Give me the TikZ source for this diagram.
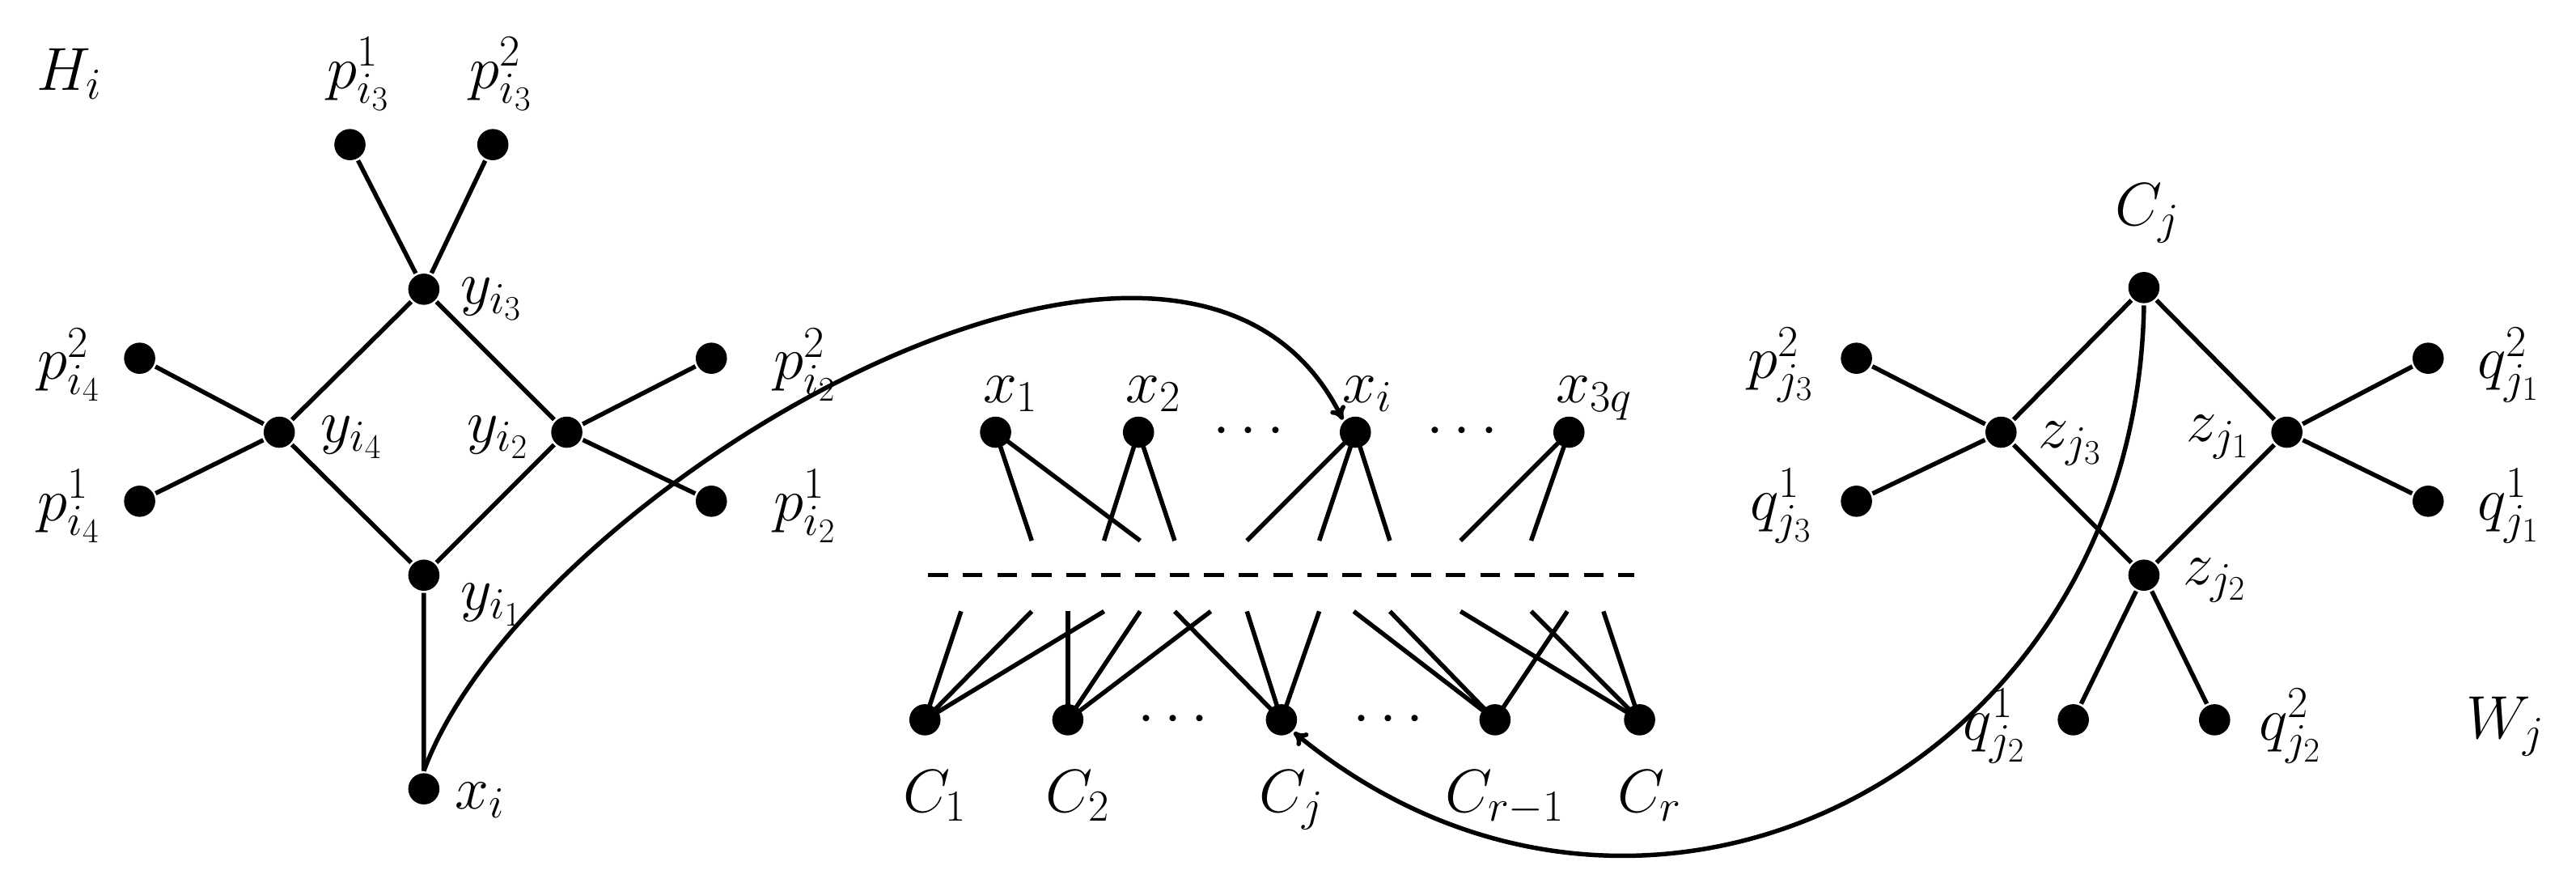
\RequirePackage{fix-cm}
\documentclass[tikz,border=0pt]{standalone}
\usetikzlibrary{arrows.meta}
\DeclareMathSizes{37}{37}{27}{21}
\begin{document}
\begin{tikzpicture}[x=1pt,y=-1pt,line width=2.7pt,
  v/.style={circle,fill=black,inner sep=0pt,minimum width=17pt,minimum height=19pt},
  lb/.style={inner sep=0pt,font=\fontsize{37}{42}\selectfont},
  arr/.style={-{To[length=8pt,width=10pt]}}]
\useasboundingbox (0,0) rectangle (1568,529);
% left gadget
\node[lb] (Hi) at (42,45) {$H_i$};
\node[v] (p13) at (213,88) {}; \node[lb] (lp13) at (218,45) {$p^1_{i_3}$};
\node[v] (p23) at (300,88) {}; \node[lb] (lp23) at (305,45) {$p^2_{i_3}$};
\node[v] (y3) at (258,176) {}; \node[lb] (ly3) at (299,182) {$y_{i_3}$};
\node[v] (p24) at (85,218) {}; \node[lb] (lp24) at (42,222) {$p^2_{i_4}$};
\node[v] (p14) at (85,305) {}; \node[lb] (lp14) at (42,308) {$p^1_{i_4}$};
\node[v] (y4) at (170,263) {}; \node[lb] (ly4) at (214,266) {$y_{i_4}$};
\node[v] (y2) at (345,263) {}; \node[lb] (ly2) at (303,266) {$y_{i_2}$};
\node[v] (p22) at (433,218) {}; \node[lb] (lp22) at (490,222) {$p^2_{i_2}$};
\node[v] (p12) at (433,305) {}; \node[lb] (lp12) at (490,308) {$p^1_{i_2}$};
\node[v] (y1) at (258,350) {}; \node[lb] (ly1) at (299,368) {$y_{i_1}$};
\node[v] (xl) at (258,480) {}; \node[lb] (lxl) at (292,487) {$x_i$};
\draw (p13)--(y3) (p23)--(y3) (y3)--(y4) (y3)--(y2) (y4)--(p24) (y4)--(p14)
      (y2)--(p22) (y2)--(p12) (y4)--(y1) (y2)--(y1) (y1)--(xl);
% middle
\foreach \n/\x/\t in {x1/606/x_1,x2/693/x_2,xm/825/x_i,x3/955/x_{3q}}{
  \node[v] (\n) at (\x,263) {};
  \node[lb,anchor=base west] (l\n) at (\x-9,245) {$\t$};}
\foreach \n/\x/\t in {C1/563/C_1,C2/650/C_2,Cm/780/C_j,Cr1/910/C_{r-1},Cr/998/C_r}{
  \node[v] (\n) at (\x,438) {};
  \node[lb,anchor=base] (l\n) at (\x+6,494) {$\t$};}
\node[lb] (d1) at (760,263) {$\cdots$};
\node[lb] (d2) at (890,263) {$\cdots$};
\node[lb] (d3) at (714,438) {$\cdots$};
\node[lb] (d4) at (845,438) {$\cdots$};
\draw[dashed,dash pattern=on 12pt off 9pt] (565,350)--(995,350);
\foreach \s/\x in {x1/628,x1/694,x2/672,x2/715,xm/759,xm/803,xm/846,x3/889,x3/932}{
  \coordinate (u) at (\x,329); \draw (\s.center)--(u);}
\foreach \x/\t in {585/C1,628/C1,650/C2,672/C1,694/C2,715/Cm,737/C2,759/Cm,803/Cm,824/Cr1,846/Cr1,889/Cr,932/Cr,954/Cr1,976/Cr}{
  \coordinate (w) at (\x,372); \draw (w)--(\t.center);}
\draw[arr] (xl.north) .. controls (320,300) and (720,60) .. (xm.north west);
% right gadget
\node[v] (Cj) at (1305,175) {}; \node[lb] (lCj) at (1307,130) {$C_j$};
\node[v] (z3) at (1218,263) {}; \node[lb] (lz3) at (1260,270) {$z_{j_3}$};
\node[v] (z1) at (1392,263) {}; \node[lb] (lz1) at (1350,266) {$z_{j_1}$};
\node[v] (z2) at (1305,350) {}; \node[lb] (lz2) at (1348,353) {$z_{j_2}$};
\node[v] (pj3) at (1130,218) {}; \node[lb] (lpj3) at (1084,222) {$p^2_{j_3}$};
\node[v] (qj3) at (1130,305) {}; \node[lb] (lqj3) at (1084,308) {$q^1_{j_3}$};
\node[v] (q21) at (1478,218) {}; \node[lb] (lq21) at (1527,222) {$q^2_{j_1}$};
\node[v] (q11) at (1478,305) {}; \node[lb] (lq11) at (1527,308) {$q^1_{j_1}$};
\node[v] (q12) at (1262,438) {}; \node[lb] (lq12) at (1214,442) {$q^1_{j_2}$};
\node[v] (q22) at (1348,438) {}; \node[lb] (lq22) at (1394,442) {$q^2_{j_2}$};
\node[lb] (Wj) at (1525,442) {$W_j$};
\draw (Cj)--(z3) (Cj)--(z1) (z3)--(pj3) (z3)--(qj3) (z1)--(q21) (z1)--(q11)
      (z3)--(z2) (z1)--(z2) (z2)--(q12) (z2)--(q22);
\draw[arr] (Cj.south) .. controls (1300,470) and (1000,620) .. (Cm.south east);
\end{tikzpicture}
\end{document}
